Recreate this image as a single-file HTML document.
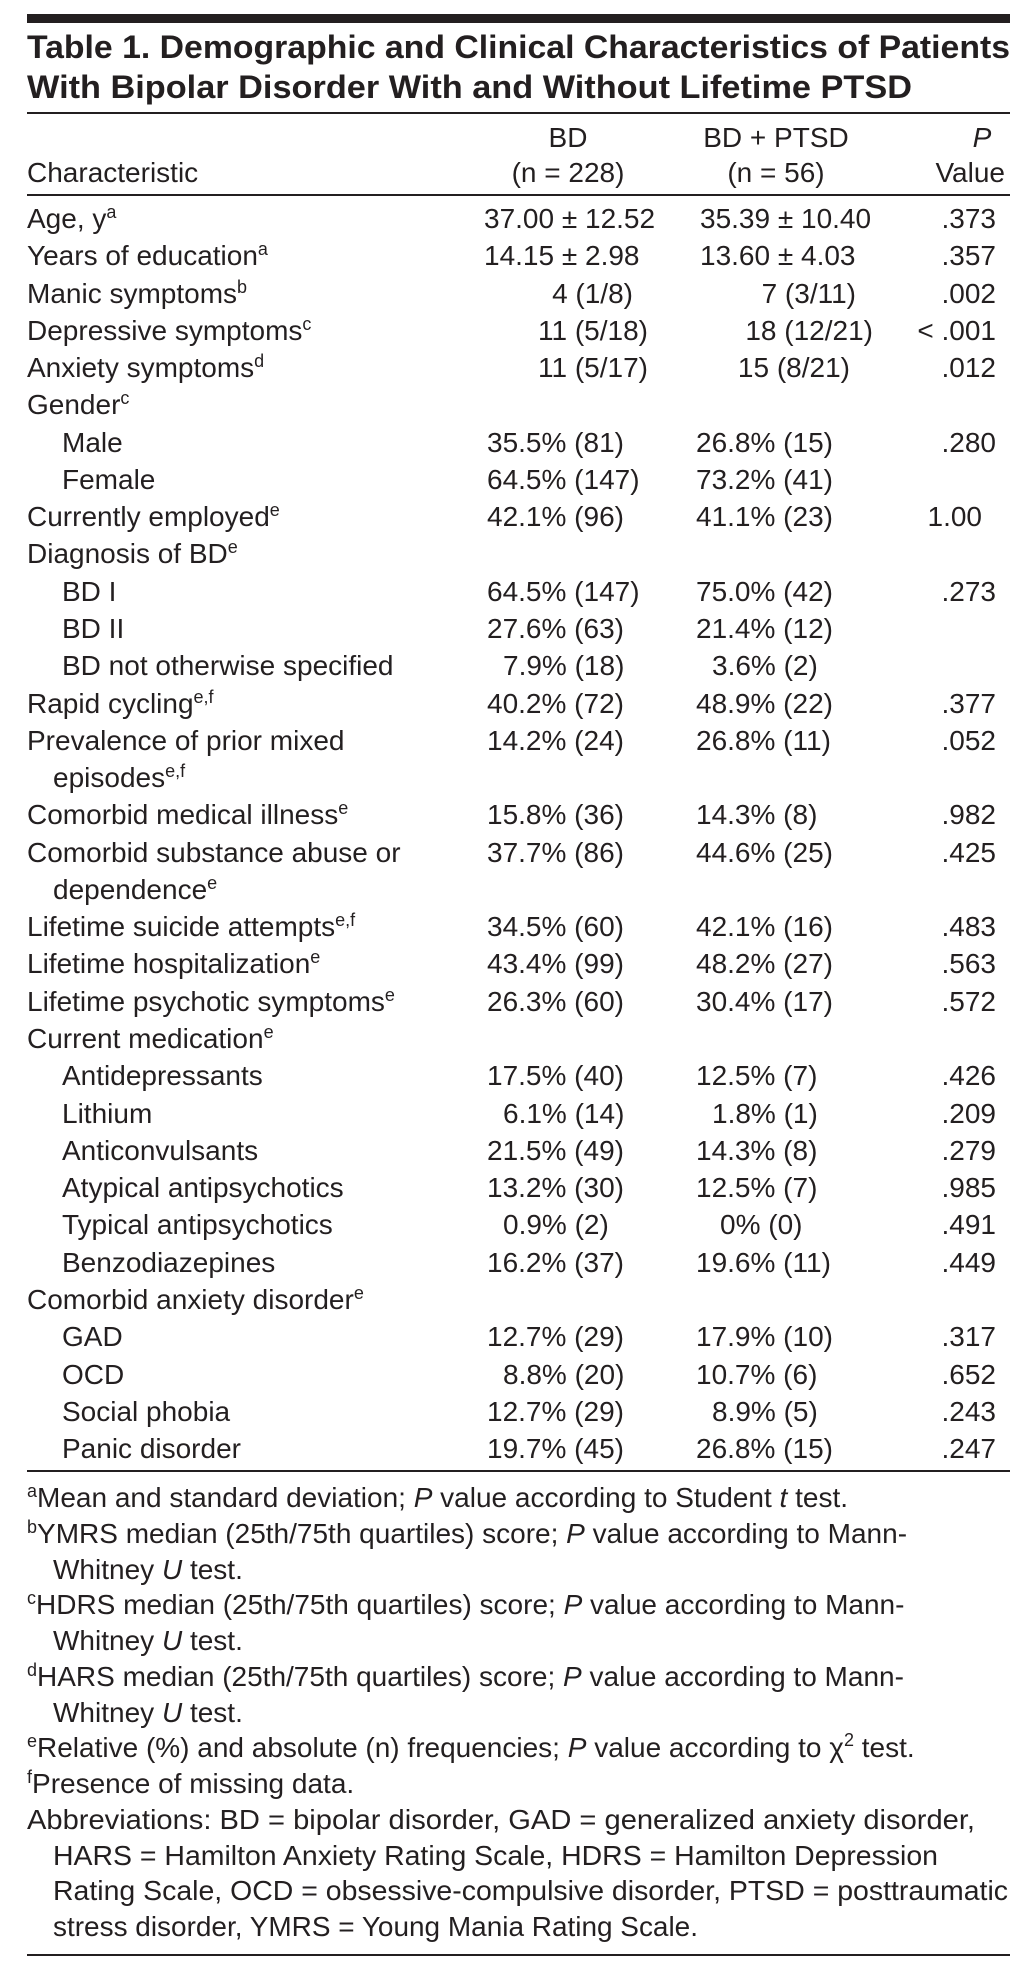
<!DOCTYPE html>
<html><head><meta charset="utf-8"><style>
html,body{margin:0;padding:0;background:#fff;}
svg{display:block;}
text{font-family:"Liberation Sans",Arial,sans-serif;fill:#231f20;}
.t{font-size:28px;}
.b{font-weight:bold;font-size:32px;}
</style></head><body>
<svg width="1035" height="1979" viewBox="0 0 1035 1979" xmlns="http://www.w3.org/2000/svg">
<rect x="27" y="14" width="983" height="9" fill="#231f20"/>
<text class="b" x="27" y="58" textLength="983" lengthAdjust="spacingAndGlyphs">Table 1. Demographic and Clinical Characteristics of Patients</text>
<text class="b" x="27" y="98" textLength="885" lengthAdjust="spacingAndGlyphs">With Bipolar Disorder With and Without Lifetime PTSD</text>
<rect x="27" y="112" width="983" height="2" fill="#231f20"/>
<g class="t">
<text class="t" x="568" y="147" text-anchor="middle">BD</text>
<text class="t" x="776" y="147" text-anchor="middle">BD + PTSD</text>
<text class="t" x="982" y="147" text-anchor="middle" font-style="italic">P</text>
<text class="t" x="27" y="182">Characteristic</text>
<text class="t" x="568" y="182" text-anchor="middle">(n = 228)</text>
<text class="t" x="776" y="182" text-anchor="middle">(n = 56)</text>
<text class="t" x="1005" y="182" text-anchor="end">Value</text>
</g>
<rect x="27" y="194" width="983" height="2" fill="#231f20"/>
<rect x="27" y="1470" width="983" height="2" fill="#231f20"/>
<g class="t">
<text class="t" x="27" y="1507"><tspan font-size="18" dy="-10">a</tspan><tspan dy="10">Mean and standard deviation; </tspan><tspan font-style="italic">P</tspan> value according to Student <tspan font-style="italic">t</tspan> test.</text>
<text class="t" x="27" y="1543"><tspan font-size="18" dy="-10">b</tspan><tspan dy="10">YMRS median (25th/75th quartiles) score; </tspan><tspan font-style="italic">P</tspan> value according to Mann-</text>
<text class="t" x="53" y="1579">Whitney <tspan font-style="italic">U</tspan> test.</text>
<text class="t" x="27" y="1614"><tspan font-size="18" dy="-10">c</tspan><tspan dy="10">HDRS median (25th/75th quartiles) score; </tspan><tspan font-style="italic">P</tspan> value according to Mann-</text>
<text class="t" x="53" y="1650">Whitney <tspan font-style="italic">U</tspan> test.</text>
<text class="t" x="27" y="1686"><tspan font-size="18" dy="-10">d</tspan><tspan dy="10">HARS median (25th/75th quartiles) score; </tspan><tspan font-style="italic">P</tspan> value according to Mann-</text>
<text class="t" x="53" y="1722">Whitney <tspan font-style="italic">U</tspan> test.</text>
<text class="t" x="27" y="1757"><tspan font-size="18" dy="-10">e</tspan><tspan dy="10">Relative (%) and absolute (n) frequencies; </tspan><tspan font-style="italic">P</tspan> value according to χ<tspan font-size="18" dy="-11">2</tspan><tspan dy="11"> test.</tspan></text>
<text class="t" x="27" y="1793"><tspan font-size="18" dy="-10">f</tspan><tspan dy="10">Presence of missing data.</tspan></text>
<text class="t" x="27" y="1829" textLength="948" lengthAdjust="spacingAndGlyphs">Abbreviations: BD = bipolar disorder, GAD = generalized anxiety disorder,</text>
<text class="t" x="53" y="1865" textLength="885" lengthAdjust="spacingAndGlyphs">HARS = Hamilton Anxiety Rating Scale, HDRS = Hamilton Depression</text>
<text class="t" x="53" y="1900" textLength="955" lengthAdjust="spacingAndGlyphs">Rating Scale, OCD = obsessive-compulsive disorder, PTSD = posttraumatic</text>
<text class="t" x="53" y="1936" textLength="645" lengthAdjust="spacingAndGlyphs">stress disorder, YMRS = Young Mania Rating Scale.</text>
</g>
<rect x="27" y="1954" width="983" height="2" fill="#231f20"/>

<g class="t">
<text class="t" x="27" y="228">Age, y<tspan font-size="18" dy="-10">a</tspan></text>
<text class="t" x="484" y="228">37.00 ± 12.52</text><text class="t" x="700" y="228">35.39 ± 10.40</text><text class="t" x="996" y="228" text-anchor="end">.373</text>

<text class="t" x="27" y="265">Years of education<tspan font-size="18" dy="-10">a</tspan></text>
<text class="t" x="484" y="265">14.15 ± 2.98</text><text class="t" x="700" y="265">13.60 ± 4.03</text><text class="t" x="996" y="265" text-anchor="end">.357</text>

<text class="t" x="27" y="303">Manic symptoms<tspan font-size="18" dy="-10">b</tspan></text>
<text class="t" x="633" y="303" text-anchor="end">4 (1/8)</text><text class="t" x="856" y="303" text-anchor="end">7 (3/11)</text><text class="t" x="996" y="303" text-anchor="end">.002</text>

<text class="t" x="27" y="340">Depressive symptoms<tspan font-size="18" dy="-10">c</tspan></text>
<text class="t" x="648" y="340" text-anchor="end">11 (5/18)</text><text class="t" x="873" y="340" text-anchor="end">18 (12/21)</text><text class="t" x="996" y="340" text-anchor="end">&lt; .001</text>

<text class="t" x="27" y="377">Anxiety symptoms<tspan font-size="18" dy="-10">d</tspan></text>
<text class="t" x="648" y="377" text-anchor="end">11 (5/17)</text><text class="t" x="850" y="377" text-anchor="end">15 (8/21)</text><text class="t" x="996" y="377" text-anchor="end">.012</text>

<text class="t" x="27" y="414">Gender<tspan font-size="18" dy="-10">c</tspan></text>

<text class="t" x="62" y="452">Male</text>
<text class="t" x="487" y="452">35.5% (81)</text><text class="t" x="696" y="452">26.8% (15)</text><text class="t" x="996" y="452" text-anchor="end">.280</text>

<text class="t" x="62" y="489">Female</text>
<text class="t" x="487" y="489">64.5% (147)</text><text class="t" x="696" y="489">73.2% (41)</text>

<text class="t" x="27" y="526">Currently employed<tspan font-size="18" dy="-10">e</tspan></text>
<text class="t" x="487" y="526">42.1% (96)</text><text class="t" x="696" y="526">41.1% (23)</text><text class="t" x="982" y="526" text-anchor="end">1.00</text>

<text class="t" x="27" y="563">Diagnosis of BD<tspan font-size="18" dy="-10">e</tspan></text>

<text class="t" x="62" y="601">BD I</text>
<text class="t" x="487" y="601">64.5% (147)</text><text class="t" x="696" y="601">75.0% (42)</text><text class="t" x="996" y="601" text-anchor="end">.273</text>

<text class="t" x="62" y="638">BD II</text>
<text class="t" x="487" y="638">27.6% (63)</text><text class="t" x="696" y="638">21.4% (12)</text>

<text class="t" x="62" y="675">BD not otherwise specified</text>
<text class="t" x="503" y="675">7.9% (18)</text><text class="t" x="712" y="675">3.6% (2)</text>

<text class="t" x="27" y="713">Rapid cycling<tspan font-size="18" dy="-10">e,f</tspan></text>
<text class="t" x="487" y="713">40.2% (72)</text><text class="t" x="696" y="713">48.9% (22)</text><text class="t" x="996" y="713" text-anchor="end">.377</text>

<text class="t" x="27" y="750">Prevalence of prior mixed</text>
<text class="t" x="487" y="750">14.2% (24)</text><text class="t" x="696" y="750">26.8% (11)</text><text class="t" x="996" y="750" text-anchor="end">.052</text>
<text class="t" x="53" y="787">episodes<tspan font-size="18" dy="-10">e,f</tspan></text>

<text class="t" x="27" y="824">Comorbid medical illness<tspan font-size="18" dy="-10">e</tspan></text>
<text class="t" x="487" y="824">15.8% (36)</text><text class="t" x="696" y="824">14.3% (8)</text><text class="t" x="996" y="824" text-anchor="end">.982</text>

<text class="t" x="27" y="862">Comorbid substance abuse or</text>
<text class="t" x="487" y="862">37.7% (86)</text><text class="t" x="696" y="862">44.6% (25)</text><text class="t" x="996" y="862" text-anchor="end">.425</text>
<text class="t" x="53" y="899">dependence<tspan font-size="18" dy="-10">e</tspan></text>

<text class="t" x="27" y="936">Lifetime suicide attempts<tspan font-size="18" dy="-10">e,f</tspan></text>
<text class="t" x="487" y="936">34.5% (60)</text><text class="t" x="696" y="936">42.1% (16)</text><text class="t" x="996" y="936" text-anchor="end">.483</text>

<text class="t" x="27" y="973">Lifetime hospitalization<tspan font-size="18" dy="-10">e</tspan></text>
<text class="t" x="487" y="973">43.4% (99)</text><text class="t" x="696" y="973">48.2% (27)</text><text class="t" x="996" y="973" text-anchor="end">.563</text>

<text class="t" x="27" y="1011">Lifetime psychotic symptoms<tspan font-size="18" dy="-10">e</tspan></text>
<text class="t" x="487" y="1011">26.3% (60)</text><text class="t" x="696" y="1011">30.4% (17)</text><text class="t" x="996" y="1011" text-anchor="end">.572</text>

<text class="t" x="27" y="1048">Current medication<tspan font-size="18" dy="-10">e</tspan></text>

<text class="t" x="62" y="1085">Antidepressants</text>
<text class="t" x="487" y="1085">17.5% (40)</text><text class="t" x="696" y="1085">12.5% (7)</text><text class="t" x="996" y="1085" text-anchor="end">.426</text>

<text class="t" x="62" y="1123">Lithium</text>
<text class="t" x="503" y="1123">6.1% (14)</text><text class="t" x="712" y="1123">1.8% (1)</text><text class="t" x="996" y="1123" text-anchor="end">.209</text>

<text class="t" x="62" y="1160">Anticonvulsants</text>
<text class="t" x="487" y="1160">21.5% (49)</text><text class="t" x="696" y="1160">14.3% (8)</text><text class="t" x="996" y="1160" text-anchor="end">.279</text>

<text class="t" x="62" y="1197">Atypical antipsychotics</text>
<text class="t" x="487" y="1197">13.2% (30)</text><text class="t" x="696" y="1197">12.5% (7)</text><text class="t" x="996" y="1197" text-anchor="end">.985</text>

<text class="t" x="62" y="1234">Typical antipsychotics</text>
<text class="t" x="503" y="1234">0.9% (2)</text><text class="t" x="720" y="1234">0% (0)</text><text class="t" x="996" y="1234" text-anchor="end">.491</text>

<text class="t" x="62" y="1272">Benzodiazepines</text>
<text class="t" x="487" y="1272">16.2% (37)</text><text class="t" x="696" y="1272">19.6% (11)</text><text class="t" x="996" y="1272" text-anchor="end">.449</text>

<text class="t" x="27" y="1309">Comorbid anxiety disorder<tspan font-size="18" dy="-10">e</tspan></text>

<text class="t" x="62" y="1346">GAD</text>
<text class="t" x="487" y="1346">12.7% (29)</text><text class="t" x="696" y="1346">17.9% (10)</text><text class="t" x="996" y="1346" text-anchor="end">.317</text>

<text class="t" x="62" y="1384">OCD</text>
<text class="t" x="503" y="1384">8.8% (20)</text><text class="t" x="696" y="1384">10.7% (6)</text><text class="t" x="996" y="1384" text-anchor="end">.652</text>

<text class="t" x="62" y="1421">Social phobia</text>
<text class="t" x="487" y="1421">12.7% (29)</text><text class="t" x="712" y="1421">8.9% (5)</text><text class="t" x="996" y="1421" text-anchor="end">.243</text>

<text class="t" x="62" y="1458">Panic disorder</text>
<text class="t" x="487" y="1458">19.7% (45)</text><text class="t" x="696" y="1458">26.8% (15)</text><text class="t" x="996" y="1458" text-anchor="end">.247</text>
</g>
</svg>
</body></html>
